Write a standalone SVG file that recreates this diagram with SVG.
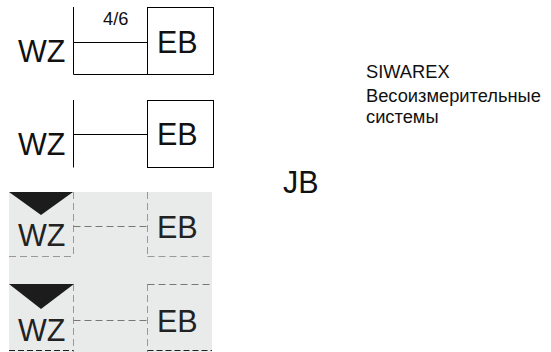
<svg xmlns="http://www.w3.org/2000/svg" width="551" height="352" viewBox="0 0 551 352">
<style>
text{font-family:"Liberation Sans",Arial,sans-serif;fill:#111}
.big{font-size:30.500px}
.small{font-size:18.300px}
.soft{fill:#222}
.ln{fill:none;stroke:#000;stroke-width:1}
.box{fill:#fff;stroke:#000;stroke-width:1}
.dash{fill:none;stroke:#999;stroke-width:1;stroke-dasharray:7 4}
.dashb{fill:none;stroke:#777;stroke-width:1;stroke-dasharray:7 4}
.dashk{fill:none;stroke:#222;stroke-width:1;stroke-dasharray:6 3}
.tri{fill:#1c1c1c}
</style>
<rect id="panel" x="9" y="192" width="203" height="160" fill="#e9ebeb"/>
<g id="connectors">
<path class="ln" d="M73.500 7V74.500H147.500M73.500 42.500H147.500"/>
<path class="ln" d="M73.500 100V167.500M73.500 134.500H147.500"/>
<path class="dash" d="M73.500 192V256.500M147.500 192V256.500"/>
<path class="dashb" d="M73.500 226.500H147.500"/>
<path class="dash" d="M9 256.500H73.500M147.500 256.500H212"/>
<path class="dash" d="M73.500 284V352M147.500 284V352"/>
<path class="dashb" d="M73.500 320.500H147.500"/>
<path class="dashb" d="M147.500 284.500H212"/>
<path class="dashk" d="M9 350.500H73.500M147.500 350.500H212"/>
</g>
<g id="wz1"><text class="big" x="18" y="62">WZ</text></g>
<g id="eb1"><rect class="box" x="147.500" y="7.500" width="66" height="67"/><text class="big" x="157" y="53">EB</text></g>
<text class="small" x="103" y="25">4/6</text>
<g id="wz2"><text class="big" x="18" y="155">WZ</text></g>
<g id="eb2"><rect class="box" x="147.500" y="100.500" width="66" height="67"/><text class="big" x="157" y="145">EB</text></g>
<g id="wz3"><polygon class="tri" points="9,192 73,192 41,215"/><text class="big soft" x="18" y="246">WZ</text></g>
<g id="eb3"><text class="big soft" x="157" y="238">EB</text></g>
<g id="wz4"><polygon class="tri" points="9,284 74,284 41,309"/><text class="big soft" x="18" y="341">WZ</text></g>
<g id="eb4"><text class="big soft" x="157" y="332">EB</text></g>
<g id="jb"><text class="big" x="283" y="193">JB</text></g>
<g id="note"><text class="small" x="366" y="78">SIWAREX</text><text class="small" x="366" y="102">Весоизмерительные</text><text class="small" x="366" y="123">системы</text></g>
</svg>
